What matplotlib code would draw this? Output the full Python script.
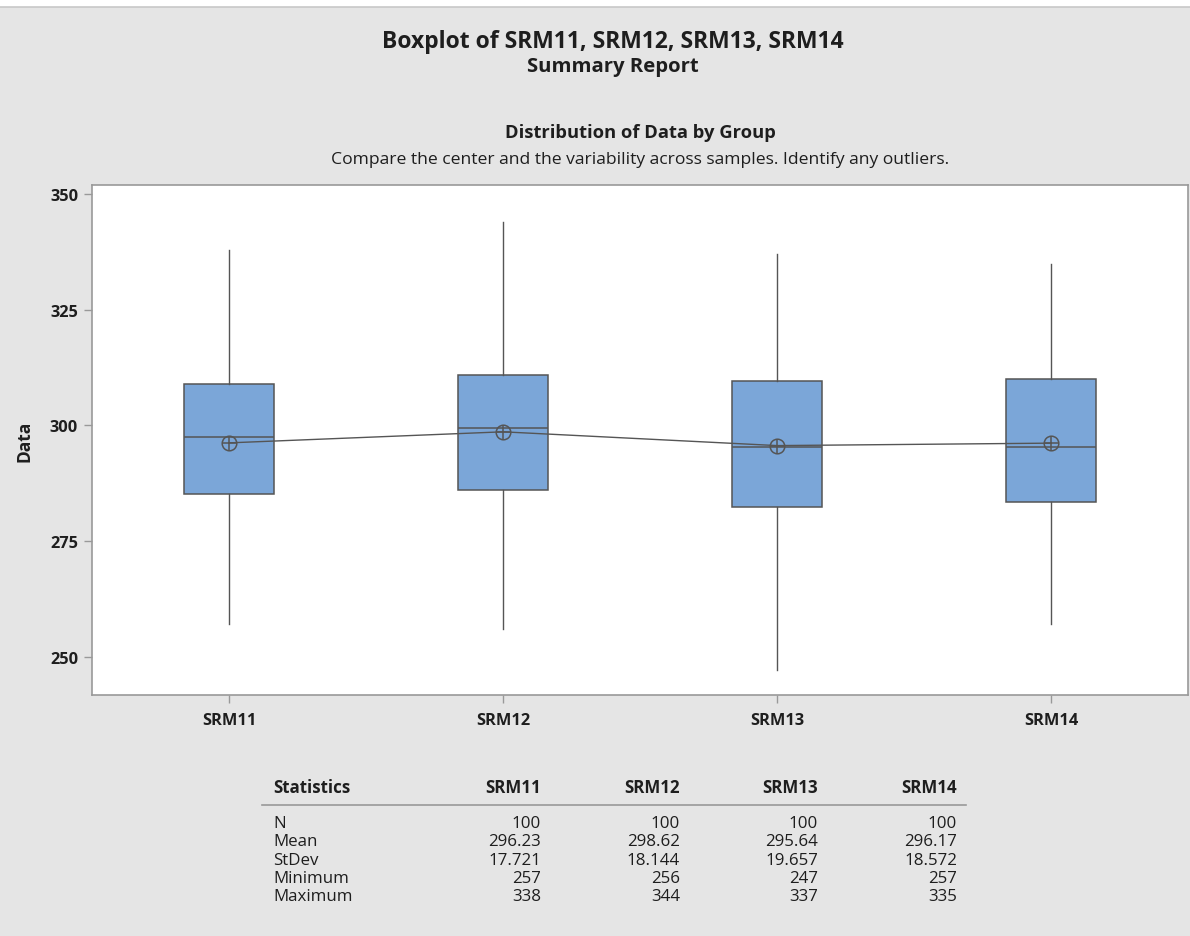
import matplotlib

matplotlib.use("Agg")

import matplotlib.pyplot as plt
from matplotlib.patches import Rectangle

plt.rcParams["font.family"] = ["Open Sans", "DejaVu Sans"]

groups = ["SRM11", "SRM12", "SRM13", "SRM14"]
q1 = [285.1, 286.1, 282.3, 283.4]
medians = [297.4, 299.5, 295.4, 295.4]
q3 = [308.9, 310.9, 309.7, 310.0]
n_vals = [100, 100, 100, 100]
means = [296.23, 298.62, 295.64, 296.17]
stdevs = [17.721, 18.144, 19.657, 18.572]
minimums = [257, 256, 247, 257]
maximums = [338, 344, 337, 335]

BG = "#e5e5e5"
BOX = "#7ba6d8"
EDGE = "#555555"
TXT = "#1e1e1e"

fig = plt.figure(figsize=(11.9, 9.37), dpi=100)
fig.patch.set_facecolor("white")
fig.patches.append(Rectangle((0, 0), 1, 1 - 8 / 937, transform=fig.transFigure,
                             facecolor=BG, edgecolor="none", zorder=-10))
fig.lines.append(plt.Line2D([0, 1], [1 - 7.5 / 937] * 2, transform=fig.transFigure,
                            color="#c8c8c8", linewidth=1.2))

ax = fig.add_axes([92 / 1190, 1 - 696 / 937, (1188 - 92) / 1190, (696 - 186) / 937])
ax.set_facecolor("white")

bxp_stats = []
for i, g in enumerate(groups):
    bxp_stats.append({
        "label": g, "med": medians[i], "q1": q1[i], "q3": q3[i],
        "whislo": minimums[i], "whishi": maximums[i], "fliers": [],
    })
x = list(range(1, len(groups) + 1))
ax.bxp(bxp_stats, positions=x, widths=0.33, patch_artist=True, showcaps=False,
       boxprops=dict(facecolor=BOX, edgecolor=EDGE, linewidth=1.1),
       medianprops=dict(color=EDGE, linewidth=1.1),
       whiskerprops=dict(color=EDGE, linewidth=1.0))
ax.plot(x, means, color=EDGE, linewidth=1.0, zorder=4)
ax.plot(x, means, linestyle="none", marker="o", markersize=10.5, markerfacecolor="none",
        markeredgecolor=EDGE, markeredgewidth=1.1, zorder=5)
ax.plot(x, means, linestyle="none", marker="+", markersize=10.5,
        markeredgecolor=EDGE, markeredgewidth=1.1, zorder=5)

ax.set_xlim(0.5, 4.5)
ax.set_ylim(241.7, 352.0)
ax.set_yticks([250, 275, 300, 325, 350])
ax.set_xticks(x)
ax.set_xticklabels(groups)
for lab in ax.get_xticklabels() + ax.get_yticklabels():
    lab.set_fontweight("bold")
    lab.set_fontsize(11.8)
    lab.set_color(TXT)
ax.tick_params(axis="both", color="#999999", length=6, width=1)
ax.tick_params(axis="x", pad=6)
ax.tick_params(axis="y", pad=4)
for s in ax.spines.values():
    s.set_color("#999999")
    s.set_linewidth(1.2)
ax.set_ylabel("Data", fontsize=12.5, fontweight="bold", labelpad=12, color=TXT)

W, H = 1190, 937


def ftext(px, py, s, **kw):
    fig.text(px / W, 1 - py / H, s, color=TXT, **kw)


ftext(613, 42, "Boxplot of SRM11, SRM12, SRM13, SRM14", ha="center", va="center",
      fontsize=16.5, fontweight="bold")
ftext(613, 67, "Summary Report", ha="center", va="center",
      fontsize=14.6, fontweight="bold")
ftext(640, 133, "Distribution of Data by Group", ha="center", va="center",
      fontsize=13.2, fontweight="bold")
ftext(640, 160, "Compare the center and the variability across samples. Identify any outliers.",
      ha="center", va="center", fontsize=12.6)

# summary table
col_x = [541, 680, 818, 957]
ftext(273, 788, "Statistics", ha="left", va="center", fontsize=12.2, fontweight="bold")
for cx, g in zip(col_x, groups):
    ftext(cx, 788, g, ha="right", va="center", fontsize=12.2, fontweight="bold")
fig.lines.append(plt.Line2D([262 / W, 966 / W], [1 - 806 / H] * 2, transform=fig.transFigure,
                            color="#999999", linewidth=1.2))

rows = [
    ("N", [str(v) for v in n_vals]),
    ("Mean", [f"{v:.2f}" for v in means]),
    ("StDev", [f"{v:.3f}" for v in stdevs]),
    ("Minimum", [str(v) for v in minimums]),
    ("Maximum", [str(v) for v in maximums]),
]
for r, (name, vals) in enumerate(rows):
    py = 824 + r * 18.3
    ftext(273, py, name, ha="left", va="center", fontsize=12.2)
    for cx, v in zip(col_x, vals):
        ftext(cx, py, v, ha="right", va="center", fontsize=12.2)

fig.savefig("out.png", dpi=100, facecolor=fig.get_facecolor())
